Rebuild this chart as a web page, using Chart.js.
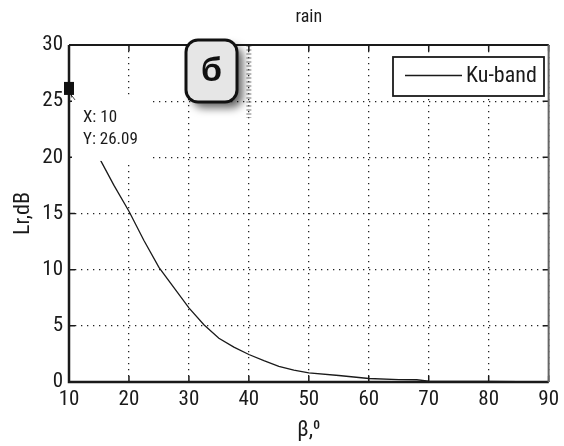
<!DOCTYPE html>
<html>
<head>
<meta charset="utf-8">
<script src="https://cdn.jsdelivr.net/npm/chart.js@4/dist/chart.umd.min.js"></script>
<style>
  html, body { margin: 0; padding: 0; background: #fff; }
  #wrap { width: 564px; height: 446px; }
</style>
</head>
<body>
<div id="wrap"><canvas id="chart" width="564" height="446"></canvas></div>
<script>
// data
const beta = [10, 12.5, 15, 17.5, 20, 22.5, 25, 27.5, 30, 32.5, 35, 37.5, 40, 42.5, 45, 47.5, 50, 55, 60, 65, 68, 70, 75, 80, 85, 90];
const lossKu = [26.09, 22.7, 20.0, 17.5, 15.2, 12.6, 10.2, 8.4, 6.6, 5.1, 3.9, 3.1, 2.45, 1.9, 1.4, 1.05, 0.82, 0.58, 0.31, 0.22, 0.2, 0.07, 0.06, 0.05, 0.04, 0.04];
const xTicks = [10, 20, 30, 40, 50, 60, 70, 80, 90];
const yTicks = [0, 5, 10, 15, 20, 25, 30];
const tip = { x: 10, y: 26.09 };
const seriesName = "Ku-band";
const panelLetter = "б";

const FONT = "'Roboto Condensed', 'DejaVu Sans Condensed', sans-serif";
const INK = "#1a1a1a";

// frame, inward ticks, data tip, legend and the panel tag
const overlay = {
  id: "overlay",
  afterDatasetsDraw(chart) {
    const { ctx, chartArea: a, scales: { x, y } } = chart;
    ctx.save();

    // gray smudge of the x=40 grid line next to the tag
    ctx.strokeStyle = "rgba(120,120,120,0.5)";
    ctx.lineWidth = 5;
    ctx.setLineDash([2, 2]);
    ctx.beginPath();
    ctx.moveTo(x.getPixelForValue(40), a.top);
    ctx.lineTo(x.getPixelForValue(40), 118);
    ctx.stroke();
    ctx.setLineDash([]);

    // ticks inside the box on all four sides
    ctx.strokeStyle = INK;
    ctx.lineWidth = 1.5;
    ctx.beginPath();
    xTicks.forEach(v => {
      const px = x.getPixelForValue(v);
      ctx.moveTo(px, a.bottom); ctx.lineTo(px, a.bottom - 6);
      ctx.moveTo(px, a.top); ctx.lineTo(px, a.top + 6);
    });
    yTicks.forEach(v => {
      const py = y.getPixelForValue(v);
      ctx.moveTo(a.left, py); ctx.lineTo(a.left + 6, py);
      ctx.moveTo(a.right, py); ctx.lineTo(a.right - 6, py);
    });
    ctx.stroke();

    // box frame
    ctx.lineWidth = 2;
    ctx.strokeStyle = INK;
    ctx.beginPath();
    ctx.moveTo(a.left, a.top); ctx.lineTo(a.right, a.top);
    ctx.stroke();
    ctx.lineWidth = 2.5;
    ctx.beginPath();
    ctx.moveTo(a.left, a.top); ctx.lineTo(a.left, a.bottom); ctx.lineTo(a.right, a.bottom);
    ctx.stroke();
    ctx.strokeStyle = "#666";
    ctx.lineWidth = 2;
    ctx.beginPath();
    ctx.moveTo(a.right, a.top); ctx.lineTo(a.right, a.bottom);
    ctx.stroke();

    // legend
    const lx = 393, ly = 57, lw = 151, lh = 39;
    ctx.fillStyle = "#fff";
    ctx.fillRect(lx, ly, lw, lh);
    ctx.strokeStyle = INK;
    ctx.lineWidth = 1.8;
    ctx.strokeRect(lx, ly, lw, lh);
    ctx.lineWidth = 1.3;
    ctx.beginPath();
    ctx.moveTo(405, ly + lh / 2 - 1); ctx.lineTo(462, ly + lh / 2 - 1);
    ctx.stroke();
    ctx.fillStyle = INK;
    ctx.font = "22px " + FONT;
    ctx.textBaseline = "middle";
    ctx.textAlign = "left";
    ctx.fillText(chart.data.datasets[0].label, 466, ly + lh / 2);

    // data tip
    const tx = x.getPixelForValue(tip.x), ty = y.getPixelForValue(tip.y);
    ctx.fillStyle = "#fff";
    ctx.fillRect(tx + 3, ty + 6, 78, 66);
    ctx.fillStyle = "#111";
    ctx.fillRect(tx - 5, ty - 7, 10, 13);
    ctx.strokeStyle = "#444";
    ctx.lineWidth = 1;
    ctx.beginPath();
    ctx.moveTo(tx + 3, ty + 7); ctx.lineTo(tx + 6, ty + 11);
    ctx.stroke();
    ctx.fillStyle = INK;
    ctx.font = "17px " + FONT;
    ctx.fillText("X: " + tip.x, tx + 14, ty + 29);
    ctx.fillText("Y: " + tip.y.toFixed(2), tx + 14, ty + 51);

    // panel tag "б"
    const bx = 186, by = 40, bw = 51, bh = 62, r = 12;
    ctx.save();
    ctx.shadowColor = "rgba(0,0,0,0.6)";
    ctx.shadowBlur = 9;
    ctx.shadowOffsetX = 6;
    ctx.shadowOffsetY = 6;
    ctx.beginPath();
    ctx.roundRect(bx, by, bw, bh, r);
    ctx.fillStyle = "#e6e6e6";
    ctx.fill();
    ctx.restore();
    ctx.beginPath();
    ctx.roundRect(bx, by, bw, bh, r);
    ctx.lineWidth = 3;
    ctx.strokeStyle = "#111";
    ctx.stroke();
    ctx.fillStyle = "#111";
    ctx.font = "bold 34px 'Liberation Sans', Arial, sans-serif";
    ctx.textAlign = "center";
    ctx.textBaseline = "middle";
    ctx.fillText(panelLetter, bx + bw / 2, by + bh / 2 + 1);

    ctx.restore();
  }
};

new Chart(document.getElementById("chart"), {
  type: "line",
  data: {
    datasets: [{
      label: seriesName,
      data: beta.map((b, i) => ({ x: b, y: lossKu[i] })),
      borderColor: INK,
      borderWidth: 1.3,
      pointRadius: 0,
      fill: false,
      tension: 0
    }]
  },
  options: {
    responsive: false,
    animation: false,
    layout: { padding: { left: 10, right: 10, top: 0, bottom: 2 } },
    plugins: {
      legend: { display: false },
      tooltip: { enabled: false },
      title: {
        display: true,
        fullSize: false,
        text: "rain",
        color: INK,
        font: { family: FONT, size: 18, weight: "normal" },
        padding: { top: 7, bottom: 16.4 }
      }
    },
    scales: {
      x: {
        type: "linear",
        min: 10,
        max: 90,
        afterFit: s => { s.height = 62; },
        afterBuildTicks: s => { s.ticks = xTicks.map(v => ({ value: v })); },
        ticks: { color: INK, padding: 5, font: { family: FONT, size: 21 }, maxRotation: 0 },
        grid: { color: "#222", lineWidth: 1.3, drawTicks: false },
        border: { display: false, dash: [1.3, 4.7] },
        title: {
          display: true,
          text: "β,⁰",
          color: INK,
          font: { family: FONT, size: 22 },
          padding: { top: 0, bottom: 0 }
        }
      },
      y: {
        min: 0,
        max: 30,
        afterFit: s => { s.width = 59; },
        afterBuildTicks: s => { s.ticks = yTicks.map(v => ({ value: v })); },
        ticks: { color: INK, padding: 6, font: { family: FONT, size: 21 } },
        grid: { color: "#222", lineWidth: 1.3, drawTicks: false },
        border: { display: false, dash: [1.3, 4.7] },
        title: {
          display: true,
          text: "Lr,dB",
          color: INK,
          font: { family: FONT, size: 22 },
          padding: { top: 0, bottom: 0 }
        }
      }
    }
  },
  plugins: [overlay]
});
</script>
</body>
</html>
